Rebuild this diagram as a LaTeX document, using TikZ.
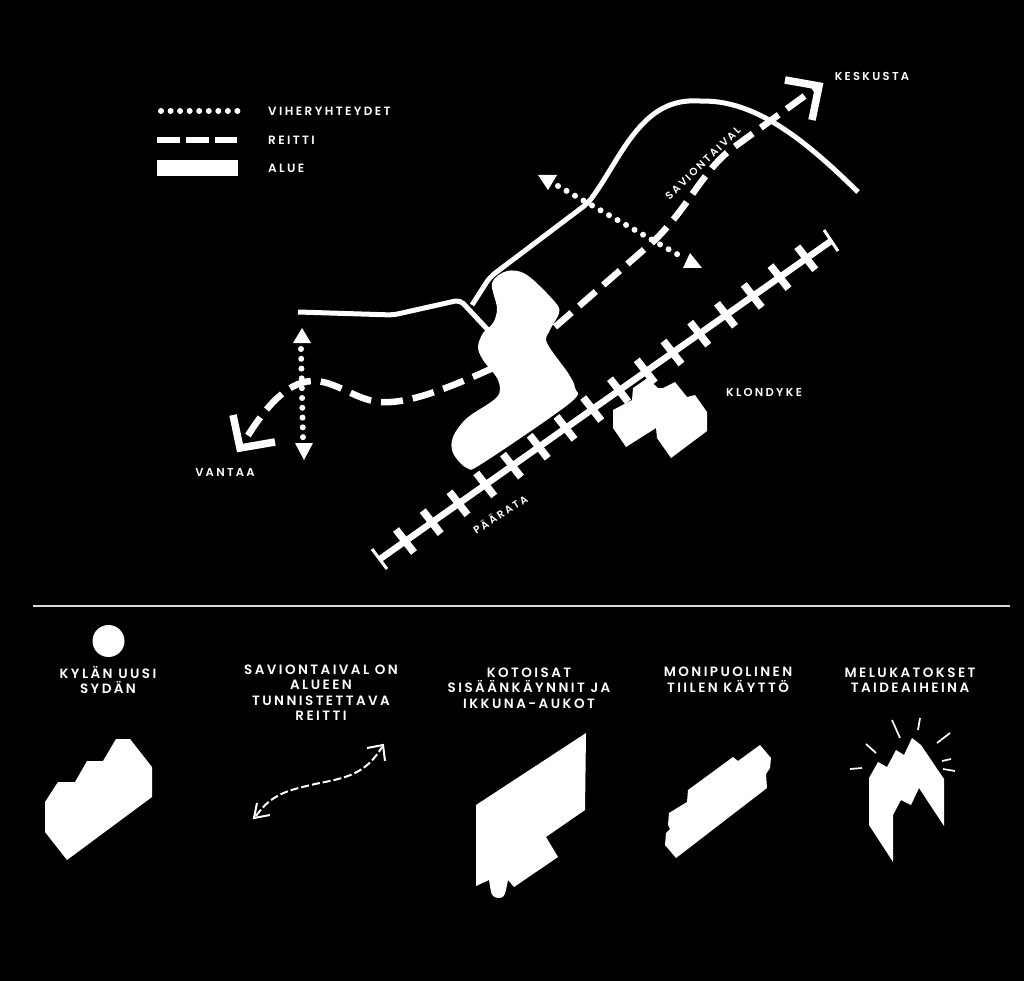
\documentclass[tikz,border=0pt]{standalone}
\usepackage{fontspec}
\newfontfamily\capfont[LetterSpace=18]{Poppins SemiBold}
\newfontfamily\smallcapfont[LetterSpace=20]{Poppins SemiBold}
\tikzset{
    legendtext/.style={text=white, font=\smallcapfont\fontsize{12}{13}\selectfont, inner sep=0pt},
    maptext/.style={text=white, font=\smallcapfont\fontsize{11.5}{13}\selectfont, inner sep=0pt},
    headtext/.style={text=white, align=center, inner sep=0pt, font=\capfont\fontsize{13.5}{15.5}\selectfont},
    tie/.style={white, line width=7.5pt},
    road/.style={white, line width=5pt},
    reitti/.style={white, line width=6.5pt, dash pattern=on 22pt off 10pt},
    viher/.style={white, line width=6pt, line cap=round, dash pattern=on 0pt off 9.8pt},
    headline/.style={white, line width=7.5pt, miter limit=10},
    area/.style={white, fill=white, draw=none},
    ray/.style={white, line width=1.7pt}
}
\begin{document}
\begin{tikzpicture}[x=1pt, y=-1pt]
    \useasboundingbox (0,0) rectangle (1024,981);
    \fill[black] (0,0) rectangle (1024,981);

    % Legend
    \coordinate (dotsa) at (161,111);
    \coordinate (dotsb) at (238,111);
    \draw[viher, dash pattern=on 0pt off 9.55pt] (dotsa) -- (dotsb);
    \fill[white] (157,137) rectangle (180,143);
    \fill[white] (186,137) rectangle (209,143);
    \fill[white] (215,137) rectangle (237,143);
    \fill[white] (157,160) rectangle (238,176);
    \node[legendtext, anchor=west] (viherlabel) at (268,111) {VIHERYHTEYDET};
    \node[legendtext, anchor=west] (reittilabel) at (268,140) {REITTI};
    \node[legendtext, anchor=west] (aluelabel) at (268,168) {ALUE};

    % Roads
    \draw[road, rounded corners=5pt] (298,312) -- (393,315) -- (460,300) -- (488,330);
    \draw[road, rounded corners=6pt] (472,305) -- (490,277) -- (588,203) .. controls (620,160) and (640,100) .. (700,101) .. controls (760,102) and (810,145) .. (858,192);

    % Railway
    \coordinate (railw) at (380,559);
    \coordinate (raile) at (831,241);
    \draw[white, line width=6.5pt] (railw) -- (raile);
    \foreach \i in {0,...,15} {
        \draw[tie] ({405+26.75*\i-9},{541-18.85*\i-11.5}) -- ({405+26.75*\i+9},{541-18.85*\i+11.5});
    }
    \draw[white, line width=3pt] (372,549) -- (387,569);
    \draw[white, line width=3pt] (824,230) -- (838,251);

    % Klondyke
    \fill[area] (613,410) -- (632,400) -- (633,388) -- (647,378) -- (658,388) -- (663,388) -- (675,382) -- (687,397) -- (695,395) -- (707,412) -- (707,431) -- (671,458) -- (657,438) -- (656,428) -- (626,447) -- (613,428) -- cycle;
    \draw[black, line width=1.2pt] (633,387) -- (646,378);

    % Central area
    \fill[area] plot[smooth cycle, tension=0.55] coordinates {(492,283) (507,271) (527,275) (555,302) (559,313) (550,330) (547,343) (568,373) (575,388) (570,403) (483,463) (467,468) (453,453) (453,437) (467,418) (497,397) (498,380) (483,360) (478,347) (483,333) (493,323) (497,308)};

    % Routes
    \coordinate (routea) at (555,327);
    \coordinate (routeb) at (817,87);
    \draw[reitti] (routea) -- (655,240) .. controls (690,205) and (700,175) .. (730,150) -- (routeb);
    \draw[headline] (785,80) -- (819,86) -- (812,120);
    \coordinate (routec) at (493,368);
    \coordinate (routed) at (244,442);
    \draw[reitti] (routec) .. controls (440,392) and (405,404) .. (380,402) .. controls (355,400) and (335,380) .. (312,381) .. controls (285,382) and (262,412) .. (routed);
    \draw[headline] (233,415) -- (240,448) -- (275,442);

    % Green links
    \coordinate (linka) at (301,349);
    \coordinate (linkb) at (303,438);
    \draw[viher] (linka) -- (linkb);
    \fill[white] (302,328) -- (311,343) -- (293,343) -- cycle;
    \fill[white] (304,460) -- (295,443) -- (313,443) -- cycle;
    \coordinate (linkc) at (558,186);
    \coordinate (linkd) at (682,257);
    \draw[viher] (linkc) -- (linkd);
    \fill[white] (538,175) -- (557,175) -- (548,190) -- cycle;
    \fill[white] (690,253) -- (702,268) -- (683,268) -- cycle;

    % Map labels
    \node[maptext] (keskusta) at (872,76) {KESKUSTA};
    \node[maptext] (klondyke) at (764,392) {KLONDYKE};
    \node[maptext] (vantaa) at (225,472) {VANTAA};
    \node[maptext, rotate=44, font=\smallcapfont\fontsize{10.5}{13}\selectfont] (saviontaival) at (703,163) {SAVIONTAIVAL};
    \node[maptext, rotate=32.5, font=\smallcapfont\fontsize{10.5}{13}\selectfont] (paarata) at (500,514) {PÄÄRATA};

    % Divider
    \coordinate (dividera) at (33,606);
    \coordinate (dividerb) at (1010,606);
    \draw[white!85!black, line width=1.2pt] (dividera) -- (dividerb);

    % Lower row
    \fill[white] (108.5,641) circle (16);
    \node[headtext] (kyla) at (108,680) {KYLÄN UUSI\\SYDÄN};
    \node[headtext] (savion) at (321,692.5) {SAVIONTAIVAL ON\\ALUEEN\\TUNNISTETTAVA\\REITTI};
    \node[headtext] (kotoisat) at (529,688) {KOTOISAT\\SISÄÄNKÄYNNIT JA\\IKKUNA-AUKOT};
    \node[headtext] (monip) at (728,680) {MONIPUOLINEN\\TIILEN KÄYTTÖ};
    \node[headtext] (meluk) at (910,680) {MELUKATOKSET\\TAIDEAIHEINA};

    % Lower shapes
    \fill[area] (116,739) -- (130,739) -- (152,767) -- (152,797) -- (67,860) -- (45,832) -- (45,802) -- (58,782) -- (75,782) -- (87,761) -- (103,761) -- cycle;
    \coordinate (smalla) at (256,816);
    \coordinate (smallb) at (382,747);
    \draw[white, line width=2pt, dash pattern=on 8pt off 3pt] (smalla) .. controls (272,793) and (290,790) .. (315,784) .. controls (345,778) and (365,775) .. (smallb);
    \draw[white, line width=2pt] (257,803) -- (254,818) -- (270,815);
    \draw[white, line width=2pt] (367,748) -- (383,745) -- (385,761);
    \fill[area] (586,733) -- (585,810) -- (546,837) -- (558,857) -- (514,887) -- (508,880) -- (506,890) .. controls (505,896) and (502,898) .. (499,898) .. controls (495,898) and (492,896) .. (491,892) -- (489,880) -- (476,886) -- (476,805) -- cycle;
    \fill[area] (760,745) -- (771,758) -- (770,768) -- (766,774) -- (767,788) -- (676,858) -- (665,845) -- (666,833) -- (670,829) -- (668,825) -- (669,813) -- (687,802) -- (688,790) -- (733,757) -- (738,761) -- cycle;
    \fill[area] (912,738) -- (921,745) -- (944,779) -- (944,826) -- (919,788) -- (911,805) -- (901,800) -- (893,815) -- (893,862) -- (869,825) -- (869,778) -- (878,762) -- (887,767) -- (896,750) -- (904,755) -- cycle;
    \draw[ray] (892,720) -- (900,738);
    \draw[ray] (920,718) -- (918,730);
    \draw[ray] (950,733) -- (937,743);
    \draw[ray] (942,761) -- (951,759);
    \draw[ray] (943,769) -- (955,771);
    \draw[ray] (866,744) -- (876,753);
    \draw[ray] (850,769) -- (862,768);
\end{tikzpicture}
\end{document}
